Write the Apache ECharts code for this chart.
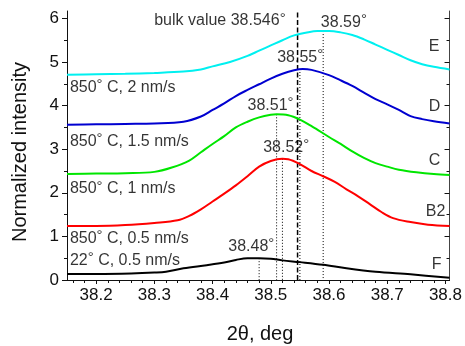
<!DOCTYPE html>
<html>
<head>
<meta charset="utf-8">
<script src="https://cdn.jsdelivr.net/npm/echarts@6/dist/echarts.min.js"></script>
<style>html,body{margin:0;padding:0;background:#fff}#c{width:465px;height:346px}</style>
</head>
<body>
<div id="c"></div>
<script>
// ---- data ----
const curveE = [[38.15,4.71],[38.20,4.72],[38.25,4.73],[38.30,4.75],[38.35,4.78],[38.38,4.83],[38.40,4.90],[38.43,5.00],[38.46,5.14],[38.48,5.26],[38.50,5.38],[38.52,5.50],[38.54,5.61],[38.56,5.67],[38.58,5.71],[38.60,5.71],[38.62,5.68],[38.64,5.62],[38.66,5.52],[38.68,5.40],[38.70,5.28],[38.72,5.16],[38.74,5.04],[38.76,4.95],[38.78,4.89],[38.807,4.83]];
const curveD = [[38.15,3.56],[38.20,3.57],[38.25,3.58],[38.30,3.59],[38.35,3.63],[38.38,3.75],[38.40,3.90],[38.42,4.05],[38.44,4.22],[38.46,4.36],[38.48,4.49],[38.50,4.62],[38.52,4.73],[38.54,4.81],[38.555,4.84],[38.57,4.82],[38.60,4.70],[38.62,4.58],[38.64,4.45],[38.66,4.30],[38.68,4.15],[38.70,4.03],[38.72,3.90],[38.74,3.76],[38.76,3.69],[38.78,3.64],[38.807,3.59]];
const curveC = [[38.15,2.43],[38.20,2.44],[38.25,2.45],[38.30,2.48],[38.33,2.58],[38.36,2.74],[38.38,2.93],[38.40,3.12],[38.42,3.30],[38.44,3.50],[38.46,3.63],[38.48,3.73],[38.50,3.79],[38.51,3.80],[38.53,3.78],[38.55,3.68],[38.57,3.53],[38.60,3.28],[38.62,3.12],[38.64,2.95],[38.66,2.80],[38.68,2.68],[38.70,2.60],[38.72,2.53],[38.75,2.47],[38.78,2.43],[38.807,2.41]];
const curveB2 = [[38.15,1.24],[38.20,1.24],[38.25,1.26],[38.30,1.31],[38.34,1.37],[38.36,1.47],[38.38,1.62],[38.40,1.80],[38.42,1.98],[38.44,2.17],[38.46,2.38],[38.48,2.60],[38.50,2.73],[38.52,2.78],[38.53,2.77],[38.55,2.66],[38.57,2.50],[38.59,2.38],[38.61,2.25],[38.63,2.08],[38.65,1.92],[38.67,1.74],[38.69,1.56],[38.71,1.42],[38.74,1.33],[38.77,1.27],[38.807,1.24]];
const curveF = [[38.15,0.14],[38.20,0.14],[38.26,0.15],[38.30,0.17],[38.32,0.19],[38.35,0.27],[38.39,0.34],[38.42,0.40],[38.44,0.46],[38.46,0.50],[38.48,0.50],[38.50,0.49],[38.52,0.45],[38.55,0.41],[38.59,0.35],[38.63,0.27],[38.68,0.19],[38.74,0.13],[38.807,0.05]];

const peakPos = [38.59, 38.55, 38.51, 38.52, 38.48];
const peakHeight = [5.71, 4.84, 3.80, 2.78, 0.50];
const peakLabels = ['38.59', '38.55', '38.51', '38.52', '38.48'];
const bulkValue = 38.546;
const bulkLabel = 'bulk value 38.546';

const sampleLabels = ['850|C, 2 nm/s', '850|C, 1.5 nm/s', '850|C, 1 nm/s', '850|C, 0.5 nm/s', '22|C, 0.5 nm/s'];
const curveNames = ['E', 'D', 'C', 'B2', 'F'];
const xTickLabels = [38.2, 38.3, 38.4, 38.5, 38.6, 38.7, 38.8];
const yTickLabels = [0, 1, 2, 3, 4, 5, 6];

// ---- layout / style ----
const FONT = "'Liberation Sans', Arial, Helvetica, sans-serif";
const TXT = '#000';
const xMin = 38.15, xMax = 38.807, yMin = 0, yMax = 6.17;
const xMinor = []; for (let i = 0; i <= 32; i++) xMinor.push(+(38.16 + i * 0.02).toFixed(2));
const yMinor = [0.5, 1.5, 2.5, 3.5, 4.5, 5.5];

const colors = ['#00f0f0', '#0000d0', '#00e600', '#ff0000', '#000000'];
const curves = [curveE, curveD, curveC, curveB2, curveF];

// annotation placement (data coords of text anchors)
const peakLabelAnchor = [[38.586, 5.90], [38.511, 5.10], [38.460, 4.00], [38.487, 3.04], [38.427, 0.77]];
const sampleAnchor = [[38.155, 4.42], [38.155, 3.17], [38.155, 2.09], [38.155, 0.95], [38.155, 0.44]];
const nameAnchor = [[38.7713, 5.36], [38.7713, 3.97], [38.7713, 2.73], [38.7662, 1.57], [38.7764, 0.36]];
const bulkAnchor = [38.2998, 5.94];

const rich = {
  t: { fontSize: 16, fontFamily: FONT, color: TXT, lineHeight: 20 },
  s: { fontSize: 15, fontFamily: FONT, color: TXT, lineHeight: 14, verticalAlign: 'top' }
};

const axisLineStyle = { color: '#111', width: 1 };

const series = [];
curves.forEach((c, i) => {
  series.push({ type: 'line', data: c, xAxisIndex: 0, yAxisIndex: 0, showSymbol: false, smooth: 0.35,
    lineStyle: { color: colors[i], width: 2 }, silent: true, z: 3 });
});
// dotted peak lines
peakPos.forEach((p, i) => {
  series.push({ type: 'line', data: [[p, peakHeight[i]], [p, 0]], xAxisIndex: 0, yAxisIndex: 0, showSymbol: false,
    lineStyle: { color: '#000', width: 1, type: [1, 2] }, silent: true, z: 2 });
});
// dashed bulk line
series.push({ type: 'line', data: [[bulkValue, 0], [bulkValue, yMax]], xAxisIndex: 0, yAxisIndex: 0, showSymbol: false,
  lineStyle: { color: '#000', width: 1.5, type: [5, 2.5] }, silent: true, z: 2 });

function textSeries(points, fmt) {
  return { type: 'scatter', xAxisIndex: 0, yAxisIndex: 0, symbolSize: 0, silent: true, z: 5,
    data: points.map((p, i) => ({ value: p, name: String(i) })),
    label: { show: true, position: 'inside', align: 'left', verticalAlign: 'middle', rich: rich,
      formatter: (d) => fmt(+d.name) } };
}
series.push(textSeries(peakLabelAnchor, i => '{t|' + peakLabels[i] + '}{s|\u00b0}'));
series.push(textSeries(sampleAnchor, i => { const s = sampleLabels[i].split('|'); return '{t|' + s[0] + '}{s|\u00b0}{t| ' + s[1] + '}'; }));
series.push(textSeries(nameAnchor, i => '{t|' + curveNames[i] + '}'));
series.push(textSeries([bulkAnchor], i => '{t|' + bulkLabel + '}{s|\u00b0}'));

const chart = echarts.init(document.getElementById('c'), null, { renderer: 'canvas' });
chart.setOption({
  animation: false,
  backgroundColor: '#fff',
  grid: { left: 67, right: 13, top: 11, bottom: 66, containLabel: false },
  xAxis: [
    { type: 'value', min: xMin, max: xMax, position: 'bottom', offset: 0,
      axisLine: { show: true, lineStyle: axisLineStyle },
      axisTick: { show: true, customValues: xTickLabels, length: 4, inside: false, lineStyle: axisLineStyle },
      axisLabel: { show: true, customValues: xTickLabels, fontSize: 17, fontFamily: FONT, color: '#111', margin: 7,
        formatter: v => v.toFixed(1) },
      splitLine: { show: false } },
    { type: 'value', min: xMin, max: xMax, position: 'bottom', offset: 0,
      axisLine: { show: false },
      axisTick: { show: true, customValues: xMinor, length: 2.5, inside: false, lineStyle: axisLineStyle },
      axisLabel: { show: false }, splitLine: { show: false } },
    { type: 'value', min: xMin, max: xMax, position: 'top', offset: 0,
      axisLine: { show: true, lineStyle: axisLineStyle },
      axisTick: { show: true, customValues: xMinor, length: 3, inside: true, lineStyle: axisLineStyle },
      axisLabel: { show: false }, splitLine: { show: false } }
  ],
  yAxis: [
    { type: 'value', min: yMin, max: yMax, position: 'left', offset: 0,
      axisLine: { show: true, lineStyle: axisLineStyle },
      axisTick: { show: true, customValues: yTickLabels, length: 5, inside: false, lineStyle: axisLineStyle },
      axisLabel: { show: true, customValues: yTickLabels, fontSize: 17, fontFamily: FONT, color: '#111', margin: 8 },
      splitLine: { show: false } },
    { type: 'value', min: yMin, max: yMax, position: 'left', offset: 0,
      axisLine: { show: false },
      axisTick: { show: true, customValues: yMinor, length: 3, inside: false, lineStyle: axisLineStyle },
      axisLabel: { show: false }, splitLine: { show: false } },
    { type: 'value', min: yMin, max: yMax, position: 'right', offset: 0,
      axisLine: { show: true, lineStyle: { color: '#444', width: 1 } },
      axisTick: { show: true, customValues: yTickLabels, length: 5, inside: true, lineStyle: axisLineStyle },
      axisLabel: { show: false }, splitLine: { show: false } },
    { type: 'value', min: yMin, max: yMax, position: 'right', offset: 0,
      axisLine: { show: false },
      axisTick: { show: true, customValues: yMinor, length: 3, inside: true, lineStyle: axisLineStyle },
      axisLabel: { show: false }, splitLine: { show: false } }
  ],
  graphic: [
    { type: 'text', x: 20.5, y: 152, rotation: Math.PI / 2,
      style: { text: 'Normalized intensity', fontSize: 20, fontFamily: FONT, fill: '#111', textAlign: 'center', textVerticalAlign: 'middle' } },
    { type: 'text', x: 260, y: 334,
      style: { text: '2\u03b8, deg', fontSize: 20, fontFamily: FONT, fill: '#111', textAlign: 'center', textVerticalAlign: 'middle' } }
  ],
  series: series
});
</script>
</body>
</html>
